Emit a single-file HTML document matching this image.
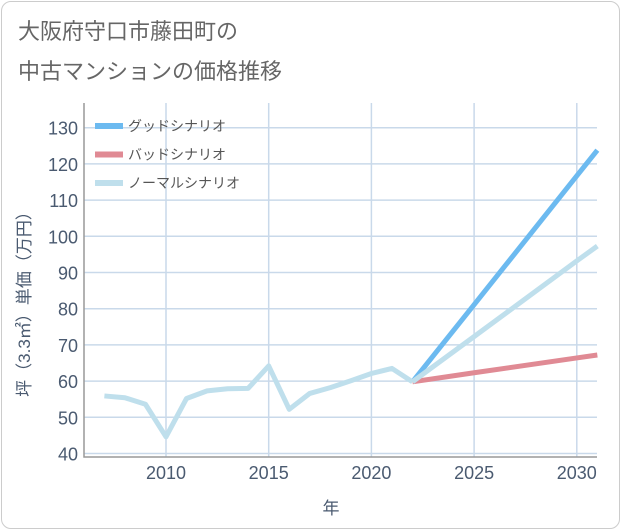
<!DOCTYPE html>
<html><head><meta charset="utf-8"><style>
body{margin:0;background:#fff;font-family:"Liberation Sans","Noto Sans CJK JP",sans-serif}
#card{position:absolute;left:1px;top:1px;width:617px;height:526px;border:1px solid #ccc;border-radius:10px;background:#fff}
.t{position:absolute;left:18px;font-size:22px;color:#666}
</style></head><body>
<div id="card"></div>
<div class="t" style="top:14px">大阪府守口市藤田町の</div>
<div class="t" style="top:54px">中古マンションの価格推移</div>
<svg id="c" width="621" height="530" style="position:absolute;left:0;top:0"></svg>
<script>
const years=[2007,2008,2009,2010,2011,2012,2013,2014,2015,2016,2017,2018,2019,2020,2021,2022];
const hist=[55.9,55.4,53.6,44.6,55.2,57.3,57.9,58,64.2,52.2,56.6,58.2,60.1,62.1,63.5,59.8];
const projYears=[2022,2025,2030,2031];
const good=[59.8,81.1,116.7,123.8];
const bad=[59.8,62.3,66.4,67.2];
const normal=[59.8,72.3,93.2,97.3];
const yTicks=[40,50,60,70,80,90,100,110,120,130];
const xTicks=[2010,2015,2020,2025,2030];
const L=84,R=597,T=103,B=457;
const X=y=>166+(y-2010)*20.54;
const Y=v=>453.5-(v-40)*3.62;
const s=document.getElementById('c'),NS='http://www.w3.org/2000/svg';
function el(t,a,p){const e=document.createElementNS(NS,t);for(const k in a)e.setAttribute(k,a[k]);(p||s).appendChild(e);return e;}
const g=el('g',{});


for(const t of yTicks){const l=el('line',{x1:L,x2:R,y1:Y(t),y2:Y(t),stroke:'#c9d9ea','stroke-width':1.5},g);
const tx=el('text',{x:78,y:Y(t)+7,'text-anchor':'end','font-size':18,fill:'#4a5a70'});tx.textContent=t;

}
for(const t of xTicks){el('line',{x1:X(t),x2:X(t),y1:T,y2:B,stroke:'#c9d9ea','stroke-width':1.5},g);
const tx=el('text',{x:X(t),y:479,'text-anchor':'middle','font-size':18,fill:'#4a5a70'});tx.textContent=t;

}
el('path',{d:`M${L},${T}V${B}H${R}`,fill:'none',stroke:'#999','stroke-width':1.5});
function line(xs,vs,c,n){const p=el('polyline',{points:xs.map((x,i)=>X(x)+','+Y(vs[i])).join(' '),fill:'none',stroke:c,'stroke-width':5,'stroke-linejoin':'round'});

}
line(projYears,bad,'#e08a94','bad-scenario-line');
line(projYears,good,'#6cbaf0','good-scenario-line');
line(projYears,normal,'#bfdfec','normal-scenario-line');
line(years,hist,'#bfdfec','historical-line');
const leg=[['グッドシナリオ','#6cbaf0'],['バッドシナリオ','#e08a94'],['ノーマルシナリオ','#bfdfec']];
leg.forEach((d,i)=>{const y=126+i*28.5;el('rect',{x:95,y:y-3,width:28,height:6,fill:d[1]});
const tx=el('text',{x:128,y:y+5,'font-size':14,fill:'#555'});tx.textContent=d[0];

});
const xl=el('text',{x:331,y:514,'text-anchor':'middle','font-size':17,fill:'#4a5a70'});xl.textContent='年';


const yl=el('text',{x:0,y:0,'text-anchor':'middle','font-size':17,fill:'#4a5a70',transform:'translate(30,300) rotate(-90)'});yl.textContent='坪（3.3㎡）単価（万円）';


</script></body></html>
